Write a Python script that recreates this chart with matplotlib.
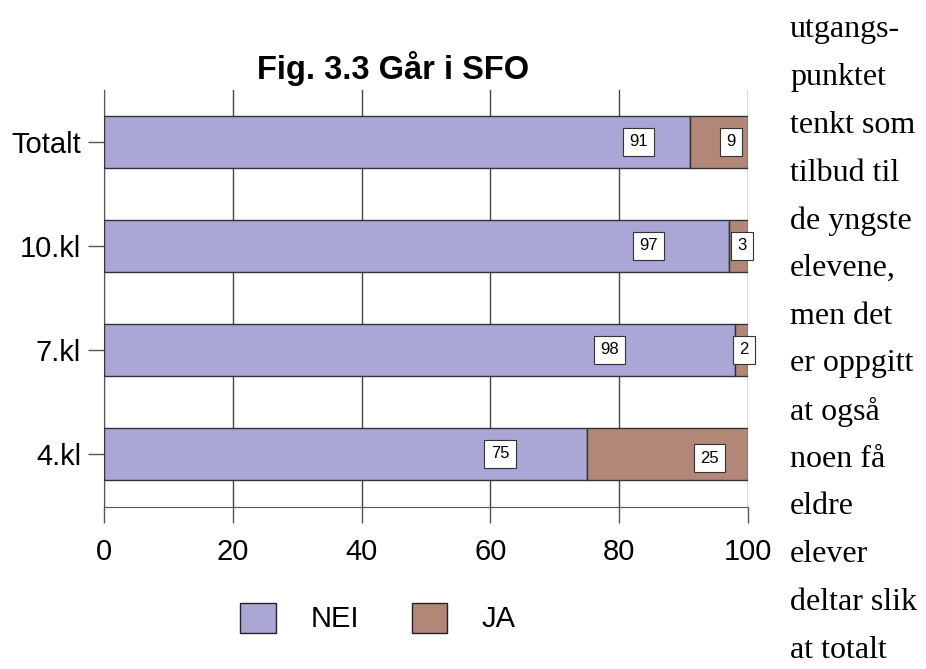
import matplotlib.pyplot as plt
from matplotlib.patches import Patch

# data
groups = ["4.kl", "7.kl", "10.kl", "Totalt"]
nei = [75, 98, 97, 91]
ja = [25, 2, 3, 9]
# where the value boxes sit
nei_lbl_x = [61.5, 78.5, 84.5, 83.0]
ja_lbl_x = [94.0, 99.4, 99.0, 97.4]
side_text = ["utgangs-", "punktet", "tenkt som", "tilbud til", "de yngste",
             "elevene,", "men det", "er oppgitt", "at også", "noen få",
             "eldre", "elever", "deltar slik", "at totalt"]

c_nei = "#aaa6d6"
c_ja = "#b38777"

plt.rcParams["font.family"] = ["Liberation Sans", "DejaVu Sans"]
fig = plt.figure(figsize=(9.26, 6.69), dpi=100)
ax = fig.add_axes([0.1123, 0.2422, 0.6955, 0.6233])

y = range(len(groups))
ax.barh(y, nei, height=0.5, color=c_nei, edgecolor="#333333", linewidth=1, zorder=3)
ax.barh(y, ja, left=nei, height=0.5, color=c_ja, edgecolor="#333333", linewidth=1, zorder=3)

box = dict(boxstyle="square,pad=0.38", fc="white", ec="#333333", lw=0.8)
for i in y:
    ax.text(nei_lbl_x[i], i, str(nei[i]), ha="center", va="center", fontsize=12,
            bbox=box, zorder=5)
    ax.text(ja_lbl_x[i], i - 0.04 if i == 0 else i, str(ja[i]), ha="center",
            va="center", fontsize=12, bbox=box, zorder=5)

ax.set_xlim(0, 100)
ax.set_ylim(-0.51, 3.5)
ax.set_xticks([0, 20, 40, 60, 80, 100])
ax.set_yticks(list(y))
ax.set_yticklabels(groups)
ax.tick_params(axis="x", length=11.5, width=1, color="#555555", pad=11, labelsize=21)
ax.tick_params(axis="y", length=11.5, width=1, color="#555555", pad=5, labelsize=21)
ax.grid(axis="x", color="#444444", linewidth=1, zorder=0)
ax.spines["top"].set_visible(False)
ax.spines["right"].set_visible(False)
ax.spines["left"].set_color("#555555")
ax.spines["bottom"].set_color("#555555")

fig.text(393 / 926, 1 - 68 / 669, "Fig. 3.3 Går i SFO", ha="center", va="center",
         fontsize=23.5, fontweight="bold")

handles = [Patch(facecolor=c_nei, edgecolor="#222222", label="NEI"),
           Patch(facecolor=c_ja, edgecolor="#222222", label="JA")]
fig.legend(handles=handles, loc="center", bbox_to_anchor=(378 / 926, 1 - 618 / 669),
           ncol=2, frameon=False, fontsize=21, handlelength=1.2, handleheight=1.2,
           handletextpad=1.2, columnspacing=1.8)

for k, s in enumerate(side_text):
    fig.text(790 / 926, 1 - (30 + k * 47.7) / 669, s, ha="left", va="center",
             fontsize=23, family="Liberation Serif")

fig.savefig("out.png", dpi=100)
